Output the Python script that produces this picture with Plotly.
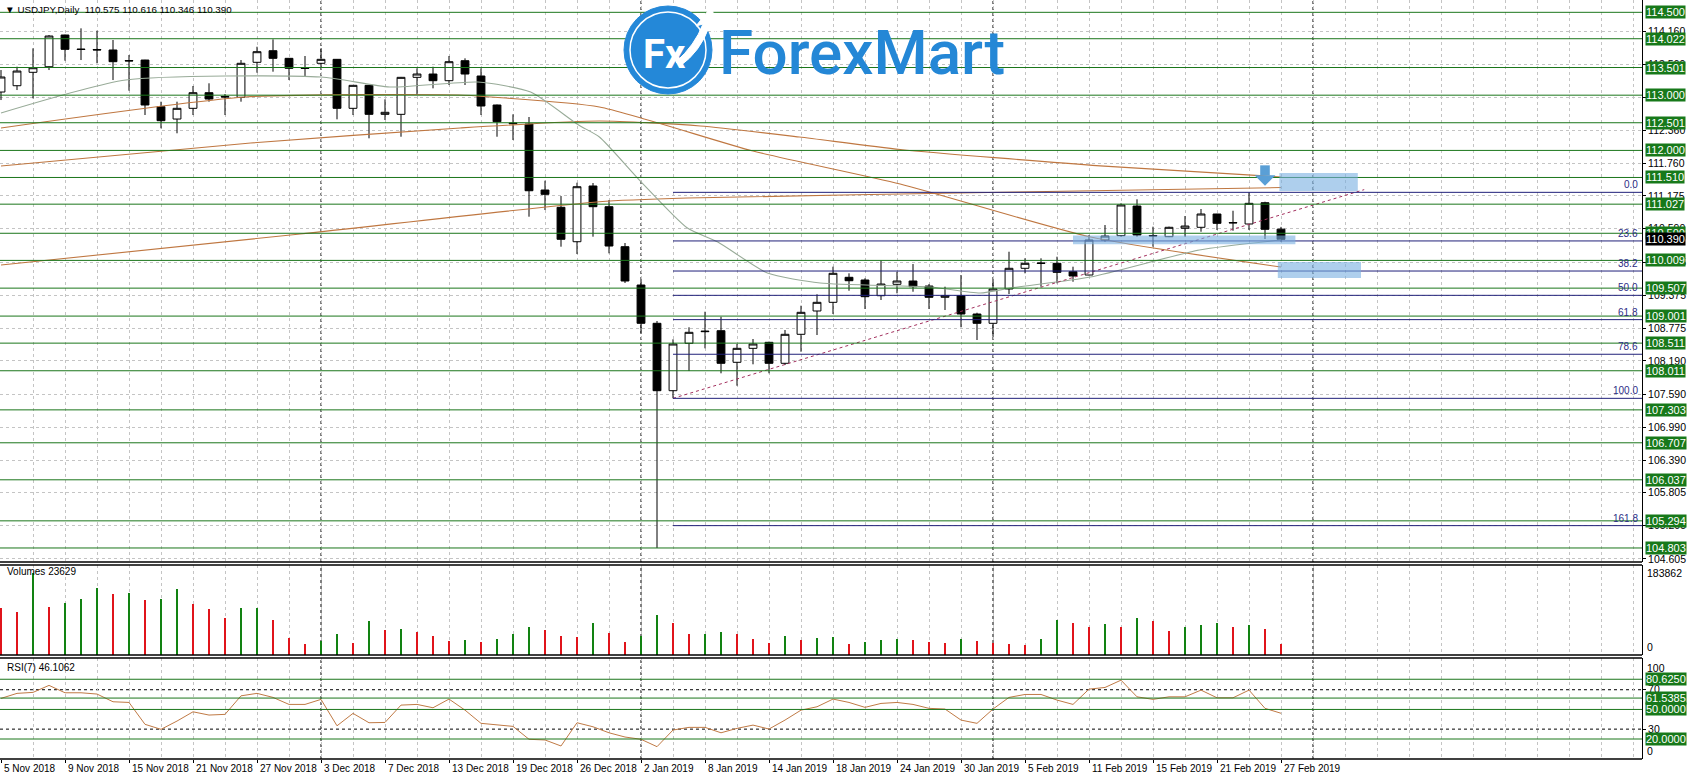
import plotly.graph_objects as go

# ---------------- data ----------------
title_text = "USDJPY,Daily  110.575 110.616 110.346 110.390"

tick_bars = list(range(0, 81, 4))
tick_labels = ["5 Nov 2018", "9 Nov 2018", "15 Nov 2018", "21 Nov 2018", "27 Nov 2018",
               "3 Dec 2018", "7 Dec 2018", "13 Dec 2018", "19 Dec 2018", "26 Dec 2018",
               "2 Jan 2019", "8 Jan 2019", "14 Jan 2019", "18 Jan 2019", "24 Jan 2019",
               "30 Jan 2019", "5 Feb 2019", "11 Feb 2019", "15 Feb 2019", "21 Feb 2019",
               "27 Feb 2019"]

opens = [113.057, 113.171, 113.414, 113.515, 114.089, 113.836, 113.827, 113.818, 113.627, 113.636,
         112.791, 112.568, 112.762, 113.045, 112.976, 112.961, 113.595, 113.805, 113.667, 113.490,
         113.577, 113.649, 112.762, 113.178, 112.653, 112.653, 113.323, 113.383, 113.262, 113.624,
         113.347, 112.822, 112.496, 112.478, 111.283, 110.970, 110.347, 111.356, 110.981, 110.257,
         109.563, 108.870, 107.650, 108.508, 108.730, 108.736, 108.164, 108.417, 108.526, 108.146,
         108.671, 109.093, 109.250, 109.703, 109.654, 109.370, 109.576, 109.636, 109.545, 109.341,
         109.370, 109.038, 108.870, 109.491, 109.866, 109.953, 109.956, 109.804, 109.744, 110.378,
         110.456, 110.993, 110.460, 110.438, 110.590, 110.608, 110.849, 110.695, 110.668, 111.053,
         110.575]
highs = [113.455, 113.515, 113.848, 114.089, 114.095, 114.210, 114.167, 113.999, 113.727, 113.640,
         112.882, 112.882, 113.166, 113.215, 113.021, 113.636, 113.877, 114.011, 113.670, 113.709,
         113.848, 113.655, 113.180, 113.185, 112.925, 113.330, 113.486, 113.515, 113.709, 113.667,
         113.486, 112.830, 112.653, 112.605, 111.452, 111.174, 111.415, 111.410, 111.102, 110.324,
         109.654, 108.912, 108.580, 108.798, 109.080, 108.989, 108.495, 108.586, 108.537, 108.749,
         109.189, 109.395, 109.895, 109.775, 109.685, 110.003, 109.804, 109.943, 109.581, 109.533,
         109.744, 109.062, 109.654, 110.166, 110.047, 110.047, 110.076, 109.895, 110.468, 110.649,
         111.042, 111.115, 110.619, 110.620, 110.812, 110.939, 110.851, 110.908, 111.241, 111.071,
         110.616]
lows = [112.912, 113.093, 112.943, 113.455, 113.624, 113.636, 113.577, 113.274, 113.081, 112.641,
        112.400, 112.310, 112.641, 112.882, 112.641, 112.882, 113.407, 113.425, 113.274, 113.347,
        113.486, 112.563, 112.641, 112.219, 112.550, 112.248, 113.003, 113.124, 113.184, 113.184,
        112.641, 112.248, 112.188, 110.800, 110.921, 110.257, 110.124, 110.438, 110.137, 109.600,
        108.694, 104.803, 107.512, 108.006, 108.417, 107.965, 107.740, 108.128, 107.965, 108.115,
        108.356, 108.658, 109.038, 109.460, 109.129, 109.292, 109.413, 109.442, 109.129, 109.111,
        108.798, 108.568, 108.627, 109.400, 109.775, 109.533, 109.594, 109.623, 109.740, 110.347,
        110.438, 110.438, 110.257, 110.430, 110.438, 110.528, 110.559, 110.546, 110.559, 110.396,
        110.346]
closes = [113.329, 113.437, 113.497, 114.071, 113.830, 113.827, 113.819, 113.606, 113.620, 112.822,
          112.538, 112.762, 113.045, 112.930, 112.968, 113.577, 113.787, 113.667, 113.486, 113.483,
          113.649, 112.762, 113.178, 112.653, 112.690, 113.323, 113.383, 113.262, 113.606, 113.383,
          112.804, 112.520, 112.485, 111.270, 111.205, 110.391, 111.343, 110.981, 110.269, 109.636,
          108.870, 107.650, 108.495, 108.707, 108.720, 108.146, 108.417, 108.495, 108.146, 108.671,
          109.069, 109.250, 109.775, 109.641, 109.352, 109.581, 109.636, 109.533, 109.341, 109.370,
          109.038, 108.870, 109.491, 109.866, 109.956, 109.960, 109.793, 109.726, 110.378, 110.450,
          111.012, 110.468, 110.452, 110.608, 110.631, 110.849, 110.680, 110.688, 111.042, 110.572,
          110.390]

volumes = [105000, 96000, 183862, 108000, 117000, 126000, 150000, 137000, 139000, 123000,
           126000, 148000, 114000, 103000, 83000, 105000, 106000, 78000, 39000, 24000,
           32000, 47000, 26000, 76000, 56000, 58000, 52000, 42000, 32000, 33000,
           30000, 36000, 46000, 63000, 57000, 43000, 41000, 72000, 50000, 30000,
           43000, 90000, 72000, 46000, 47000, 52000, 47000, 36000, 28000, 43000,
           34000, 39000, 40000, 25000, 29000, 33000, 36000, 34000, 29000, 28000,
           37000, 31000, 26000, 25000, 23000, 37000, 79000, 71000, 63000, 70000,
           63000, 84000, 77000, 54000, 63000, 68000, 71000, 63000, 68000, 59000,
           23629]
volume_up = "rrgrgggrgrggrrrggrrrggrgrgrrrgrgggrrrgrrggrrggrrrgrggrgggrrrgrrrrggrrgrgrrgggrgrr"

rsi_values = [61.2, 66.3, 67.3, 74.4, 66.9, 66.9, 65.6, 57.8, 57.1, 34.9,
              29.8, 38.2, 47.6, 44.3, 45.0, 63.8, 66.3, 62.2, 55.1, 55.1,
              60.2, 33.4, 46.0, 36.5, 36.8, 54.4, 55.1, 51.7, 60.5, 49.3,
              35.9, 34.1, 32.8, 19.7, 19.0, 12.9, 36.5, 32.4, 26.3, 22.0,
              19.7, 12.2, 29.1, 31.8, 31.8, 26.3, 30.8, 34.1, 30.1, 39.2,
              49.3, 52.7, 60.5, 57.1, 52.1, 56.1, 57.1, 55.1, 51.1, 50.4,
              39.2, 35.9, 50.4, 62.2, 65.2, 65.2, 59.5, 55.1, 70.6, 72.3,
              79.7, 62.8, 60.2, 62.8, 62.8, 69.6, 61.8, 61.8, 69.6, 51.1,
              46.1]
rsi_label = "RSI(7) 46.1062"
volume_label = "Volumes 23629"

# moving averages (bar index, price)
ma_fast_bar = [0, 7.8, 20, 24.3, 29.8, 33.1, 36.1, 37.4, 39.9, 42.9, 44.8, 47.9, 51.2, 58.1, 61.2, 63.1, 68.1, 74.9, 80]
ma_fast_val = [112.677, 113.274, 113.329, 113.148, 113.238, 113.057, 112.460, 112.243, 111.464, 110.595,
               110.342, 109.781, 109.600, 109.527, 109.418, 109.509, 109.708, 110.197, 110.378]
ma_mid_bar = [0, 15.25, 28.6, 30.6, 37.4, 47, 56.2, 68.1, 80]
ma_mid_val = [112.406, 112.967, 113.003, 112.967, 112.786, 111.989, 111.392, 110.432, 109.889]
ma_slow_bar = [0, 15.6, 28.7, 37.4, 43.7, 49.9, 56.2, 68.7, 80]
ma_slow_val = [111.718, 112.134, 112.406, 112.532, 112.442, 112.243, 112.017, 111.720, 111.520]
ma_long_bar = [0, 18.7, 37.4, 42.9, 63.5, 80]
ma_long_val = [109.925, 110.487, 111.071, 111.138, 111.247, 111.328]

level_prices = [114.500, 114.022, 113.501, 113.000, 112.501, 112.000, 111.510, 111.027, 110.500,
                110.009, 109.507, 109.001, 108.511, 108.011, 107.303, 106.707, 106.037, 105.294, 104.803]
price_grid = [104.605, 105.205, 105.805, 106.390, 106.990, 107.590, 108.190, 108.775, 109.375,
              109.975, 110.590, 111.175, 111.760, 112.360, 112.960, 113.560, 114.160]
current_price = 110.390

fib_levels = [0.0, 23.6, 38.2, 50.0, 61.8, 78.6, 100.0, 161.8]
fib_high, fib_low, fib_start_bar = 111.241, 107.512, 42
trend_bar = [42, 85.2]
trend_val = [107.512, 111.29]

rsi_levels = [80.625, 61.5385, 50.0, 20.0]
rsi_level_text = ["80.6250", "61.5385", "50.0000", "20.0000"]
rsi_dashed = [70, 30]
separator_bars = [20, 40, 62, 82]
volume_max_label = 183862

# blue hand-drawn marks: (bar from, bar to, price low, price high)
blue_boxes = [(79.9, 84.8, 111.265, 111.591), (67.0, 80.9, 110.30, 110.46), (79.8, 85.0, 109.69, 109.98)]
arrow_bar, arrow_top, arrow_mid, arrow_tip = 79.0, 111.73, 111.55, 111.36

# ---------------- layout geometry ----------------
W, H = 1687, 774
PLOT_W = 1642
X_MIN, X_MAX = -0.0625, 102.5625
MAIN_DOM = [1 - 562 / H, 1.0]
VOL_DOM = [1 - 655 / H, 1 - 565 / H]
RSI_DOM = [1 - 759 / H, 1 - 658 / H]
MAIN_RANGE = [104.549, 114.723]
VOL_RANGE = [0, 201800]
RSI_RANGE = [-0.3, 102.2]

GREEN = "#1b761b"
LABEL_GREEN = "#17791a"
GRID = "#c4c4c4"
BROWN = "#bf7741"
NAVY = "#20207a"
FONT = "Liberation Sans, Arial, sans-serif"


def pxx(px):
    return px / PLOT_W


def pxy(py):
    return 1 - py / H


bars = list(range(len(opens)))
fig = go.Figure()

fig.add_trace(go.Candlestick(
    x=bars, open=opens, high=highs, low=lows, close=closes,
    increasing=dict(line=dict(color="black", width=1), fillcolor="white"),
    decreasing=dict(line=dict(color="black", width=1), fillcolor="black"),
    whiskerwidth=0, xaxis="x", yaxis="y", showlegend=False, hoverinfo="skip"))

for bx, by, col, wd in [(ma_long_bar, ma_long_val, BROWN, 1.1), (ma_slow_bar, ma_slow_val, BROWN, 1.1),
                        (ma_mid_bar, ma_mid_val, BROWN, 1.1), (ma_fast_bar, ma_fast_val, "#98ab98", 1.1)]:
    fig.add_trace(go.Scatter(x=bx, y=by, mode="lines", line=dict(color=col, width=wd, shape="spline", smoothing=0.6),
                             xaxis="x", yaxis="y", showlegend=False, hoverinfo="skip"))

fig.add_trace(go.Scatter(x=trend_bar, y=trend_val, mode="lines",
                         line=dict(color="#a3305e", width=1, dash="3px,3px"),
                         xaxis="x", yaxis="y", showlegend=False, hoverinfo="skip"))

vol_colors = ["#128212" if c == "g" else "#e0141b" for c in volume_up]
fig.add_trace(go.Bar(x=bars, y=volumes, marker=dict(color=vol_colors, line=dict(width=0)), width=0.13,
                     xaxis="x2", yaxis="y2", showlegend=False, hoverinfo="skip"))

fig.add_trace(go.Scatter(x=bars, y=rsi_values, mode="lines", line=dict(color="#c07a45", width=1),
                         xaxis="x3", yaxis="y3", showlegend=False, hoverinfo="skip"))

shapes = []
annotations = []

# horizontal levels in main window
for p in level_prices:
    shapes.append(dict(type="line", xref="x", yref="y", x0=X_MIN, x1=X_MAX, y0=p, y1=p,
                       line=dict(color=GREEN, width=1), layer="above"))
    annotations.append(dict(xref="paper", yref="y", x=1 + 2.5 / PLOT_W, y=p, xanchor="left", yanchor="middle",
                            text=f"{p:.3f}", showarrow=False, bgcolor=LABEL_GREEN, borderpad=0,
                            font=dict(color="white", size=11, family=FONT)))
annotations.append(dict(xref="paper", yref="y", x=1 + 2.5 / PLOT_W, y=current_price, xanchor="left",
                        yanchor="middle", text=f"{current_price:.3f}", showarrow=False, bgcolor="black",
                        borderpad=0, font=dict(color="white", size=11, family=FONT)))

# fibonacci retracement
for lv in fib_levels:
    p = fib_high - lv / 100 * (fib_high - fib_low)
    shapes.append(dict(type="line", xref="x", yref="y", x0=fib_start_bar, x1=X_MAX, y0=p, y1=p,
                       line=dict(color=NAVY, width=1), layer="above"))
    annotations.append(dict(xref="x", yref="y", x=X_MAX - 0.12, y=p, xanchor="right", yanchor="bottom",
                            text=f"{lv:.1f}", showarrow=False, font=dict(color="#2c2c86", size=10, family=FONT)))

# month separators (one per window)
for b in separator_bars:
    for yr, rng in [("y", MAIN_RANGE), ("y2", VOL_RANGE), ("y3", RSI_RANGE)]:
        xr = {"y": "x", "y2": "x2", "y3": "x3"}[yr]
        shapes.append(dict(type="line", xref=xr, yref=yr, x0=b, x1=b, y0=rng[0], y1=rng[1],
                           line=dict(color="black", width=1, dash="3px,3px"), layer="below"))

# RSI levels
for lv, txt in zip(rsi_levels, rsi_level_text):
    shapes.append(dict(type="line", xref="x3", yref="y3", x0=X_MIN, x1=X_MAX, y0=lv, y1=lv,
                       line=dict(color=GREEN, width=1), layer="above"))
    annotations.append(dict(xref="paper", yref="y3", x=1 + 2.5 / PLOT_W, y=lv, xanchor="left", yanchor="middle",
                            text=txt, showarrow=False, bgcolor=LABEL_GREEN, borderpad=0,
                            font=dict(color="white", size=11, family=FONT)))
for lv in rsi_dashed:
    shapes.append(dict(type="line", xref="x3", yref="y3", x0=X_MIN, x1=X_MAX, y0=lv, y1=lv,
                       line=dict(color="black", width=1, dash="3px,3px"), layer="below"))

# window frames
for py in [562, 565, 655, 658, 759]:
    shapes.append(dict(type="line", xref="paper", yref="paper", x0=0, x1=1, y0=pxy(py), y1=pxy(py),
                       line=dict(color="black", width=1.3), layer="above"))

# blue marks
for x0, x1, y0, y1 in blue_boxes:
    shapes.append(dict(type="rect", xref="x", yref="y", x0=x0, x1=x1, y0=y0, y1=y1,
                       fillcolor="rgba(120,175,225,0.6)", line=dict(width=0), layer="above"))
shapes.append(dict(type="rect", xref="x", yref="y", x0=arrow_bar - 0.3, x1=arrow_bar + 0.3,
                   y0=arrow_mid, y1=arrow_top, fillcolor="#5a9fd6", line=dict(width=0), layer="above"))
shapes.append(dict(type="path", xref="x", yref="y",
                   path=f"M {arrow_bar - 0.65},{arrow_mid} L {arrow_bar + 0.65},{arrow_mid} L {arrow_bar},{arrow_tip} Z",
                   fillcolor="#5a9fd6", line=dict(width=0), layer="above"))

# ForexMart logo
shapes.append(dict(type="circle", xref="paper", yref="paper", x0=pxx(624), x1=pxx(712), y0=pxy(94), y1=pxy(6),
                   fillcolor="#2488d8", line=dict(color="#2488d8", width=1), layer="above"))
shapes.append(dict(type="circle", xref="paper", yref="paper", x0=pxx(630), x1=pxx(706), y0=pxy(88), y1=pxy(12),
                   fillcolor="rgba(0,0,0,0)", line=dict(color="white", width=1.5), layer="above"))
shapes.append(dict(type="path", xref="paper", yref="paper",
                   path=(f"M {pxx(676)},{pxy(62)} Q {pxx(695)},{pxy(45)} {pxx(703)},{pxy(24)} "
                         f"L {pxx(696)},{pxy(26)} L {pxx(712)},{pxy(6)} L {pxx(716)},{pxy(32)} "
                         f"L {pxx(709)},{pxy(27)} Q {pxx(700)},{pxy(52)} {pxx(680)},{pxy(66)} Z"),
                   fillcolor="white", line=dict(color="white", width=1), layer="above"))
annotations.append(dict(xref="paper", yref="paper", x=pxx(664), y=pxy(54), xanchor="center", yanchor="middle",
                        text="Fx", showarrow=False, font=dict(color="white", size=40, family="Roboto", weight="bold")))
annotations.append(dict(xref="paper", yref="paper", x=pxx(717), y=pxy(52), xanchor="left", yanchor="middle",
                        text="ForexMart", showarrow=False,
                        font=dict(color="#2487d6", size=62, family="Roboto", weight=500)))

# window captions
annotations.append(dict(xref="paper", yref="paper", x=pxx(3), y=pxy(9), xanchor="left", yanchor="middle",
                        text="▼ " + title_text, showarrow=False, font=dict(color="black", size=9.8, family=FONT)))
annotations.append(dict(xref="paper", yref="paper", x=pxx(5), y=pxy(571), xanchor="left", yanchor="middle",
                        text=volume_label, showarrow=False, font=dict(color="black", size=10, family=FONT)))
annotations.append(dict(xref="paper", yref="paper", x=pxx(5), y=pxy(667), xanchor="left", yanchor="middle",
                        text=rsi_label, showarrow=False, font=dict(color="black", size=10, family=FONT)))

# date labels under the bottom window (text starts at the bar)
for b, txt in zip(tick_bars, tick_labels):
    annotations.append(dict(xref="x3", yref="paper", x=b, y=pxy(768.5), xanchor="left", yanchor="middle",
                            xshift=1, text=txt, showarrow=False, font=dict(color="black", size=10, family=FONT)))

# side labels of the sub windows
annotations.append(dict(xref="paper", yref="y2", x=1 + 3 / PLOT_W, y=volume_max_label, xanchor="left",
                        yanchor="middle", text=str(volume_max_label), showarrow=False,
                        font=dict(color="black", size=10.5, family=FONT)))
annotations.append(dict(xref="paper", yref="y2", x=1 + 3 / PLOT_W, y=0, xanchor="left", yanchor="bottom",
                        text="0", showarrow=False, font=dict(color="black", size=10.5, family=FONT)))
annotations.append(dict(xref="paper", yref="y3", x=1 + 3 / PLOT_W, y=100, xanchor="left", yanchor="top",
                        text="100", showarrow=False, font=dict(color="black", size=10.5, family=FONT)))
annotations.append(dict(xref="paper", yref="y3", x=1 + 3 / PLOT_W, y=0, xanchor="left", yanchor="bottom",
                        text="0", showarrow=False, font=dict(color="black", size=10.5, family=FONT)))

xcommon = dict(range=[X_MIN, X_MAX], showgrid=True, gridcolor=GRID, griddash="3px,3px", gridwidth=1,
               zeroline=False, showline=False, tickmode="array", tickvals=tick_bars,
               minor=dict(tickmode="linear", tick0=0, dtick=2, showgrid=True, gridcolor=GRID,
                          griddash="3px,3px", gridwidth=1),
               rangeslider=dict(visible=False), fixedrange=True, showticklabels=False)

fig.update_layout(
    width=W, height=H, margin=dict(l=0, r=W - PLOT_W, t=0, b=0, autoexpand=False),
    paper_bgcolor="white", plot_bgcolor="rgba(0,0,0,0)", showlegend=False, bargap=0,
    font=dict(family=FONT, size=10.5, color="black"),
    xaxis=dict(**xcommon, anchor="y", ticks=""),
    xaxis2=dict(**xcommon, anchor="y2", matches="x", ticks=""),
    xaxis3=dict(**xcommon, anchor="y3", matches="x", ticks="outside", ticklen=3, tickcolor="black"),
    yaxis=dict(domain=MAIN_DOM, range=MAIN_RANGE, side="right", anchor="x", tickmode="array",
               tickvals=price_grid, ticktext=[f"{v:.3f}" for v in price_grid], showgrid=True, gridcolor=GRID,
               griddash="3px,3px", zeroline=False, showline=True, linecolor="black", linewidth=1,
               ticks="outside", ticklen=3, tickcolor="black", tickfont=dict(size=10.5, family=FONT)),
    yaxis2=dict(domain=VOL_DOM, range=VOL_RANGE, side="right", anchor="x2", showgrid=False, zeroline=False,
                showline=True, linecolor="black", showticklabels=False, ticks=""),
    yaxis3=dict(domain=RSI_DOM, range=RSI_RANGE, side="right", anchor="x3", tickmode="array",
                tickvals=rsi_dashed, ticktext=[str(v) for v in rsi_dashed], showgrid=False, zeroline=False,
                showline=True, linecolor="black", ticks="outside", ticklen=3, tickcolor="black",
                tickfont=dict(size=10.5, family=FONT)),
    shapes=shapes, annotations=annotations,
)

fig.write_html("out.html", config={"staticPlot": True},
               post_script="document.body.style.margin='0';document.body.style.overflow='hidden';")
